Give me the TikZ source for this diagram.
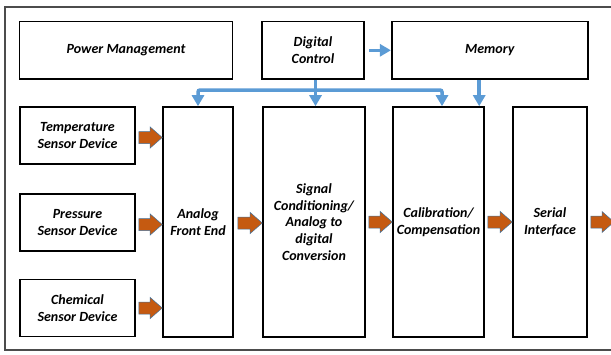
\documentclass[tikz,border=0pt]{standalone}
\usepackage{fontspec}
\setmainfont{Carlito}
\usetikzlibrary{arrows.meta,calc}
\definecolor{bblue}{HTML}{5B9BD5}
\definecolor{borange}{HTML}{C55A11}
\definecolor{bedge}{HTML}{41719C}
\tikzset{
  box/.style={draw, line width=1.6pt, align=center, inner sep=0pt},
  topbox/.style={box, minimum height=57.5pt},
  sbox/.style={box, minimum width=115pt, minimum height=57pt},
  tbox/.style={box, minimum height=230pt},
  barrow/.style={draw=bedge, line width=0.5pt, fill=borange,
    to path={let \p1=(\tikztostart), \p2=(\tikztotarget) in
      (\x1,\y1-6pt) -- (\x2-12pt,\y1-6pt) -- (\x2-12pt,\y1-10.5pt) -- (\x2,\y1)
      -- (\x2-12pt,\y1+10.5pt) -- (\x2-12pt,\y1+6pt) -- (\x1,\y1+6pt) -- cycle}},
  bline/.style={draw=bblue, line width=3.5pt},
  btip/.tip={Triangle[width=12pt,length=11pt]}
}
\begin{document}
\begin{tikzpicture}[x=1pt, y=-1pt, font=\fontsize{14}{16.7}\selectfont\bfseries\itshape]
\clip (0,0) rectangle (611,354);
\fill[white] (0,0) rectangle (611,354);
\draw[line width=1.5pt, black!70] (5,7) rectangle (630,350);
% top row
\node[topbox, minimum width=213pt] (pm) at (126,50.3) {Power Management};
\node[topbox, minimum width=102.5pt] (dc) at (313,50.3) {Digital\\Control};
\node[topbox, minimum width=196pt] (mem) at (489.7,50.3) {Memory};
% sensors
\node[sbox] (ts) at (77.5,135.5) {Temperature\\Sensor Device};
\node[sbox] (ps) at (77.5,222.5) {Pressure\\Sensor Device};
\node[sbox] (cs) at (77.5,308) {Chemical\\Sensor Device};
% tall blocks
\node[tbox, minimum width=70pt] (afe) at (198,222) {Analog\\Front End};
\node[tbox, minimum width=102pt] (sc) at (314,222) {Signal\\Conditioning/\\Analog to\\digital\\Conversion};
\node[tbox, minimum width=91pt] (cal) at (438.5,222) {Calibration/\\Compensation};
\node[tbox, minimum width=74pt] (si) at (550,222) {Serial\\Interface};
\coordinate (out) at (614,222);
% orange block arrows
\path[barrow] ([xshift=3pt,yshift=-2pt]ts.east) to (afe.west);
\path[barrow] ([xshift=3pt,yshift=-2pt]ps.east) to (afe.west);
\path[barrow] ([xshift=3pt]cs.east) to (afe.west);
\path[barrow] ([xshift=4pt,yshift=-1pt]afe.east) to (sc.west);
\path[barrow] ([xshift=3pt]sc.east) to (cal.west);
\path[barrow] ([xshift=3pt]cal.east) to (si.west);
\path[barrow] ([xshift=3pt]si.east) to (out);
% blue control arrows
\coordinate (busL) at (198,90);
\coordinate (busR) at (442,90);
\draw[bline, btip-btip, rounded corners=2pt] (busL |- afe.north) -- (busL) -- (busR) -- (busR |- cal.north);
\coordinate (dd) at ([xshift=2.5pt]dc.south);
\draw[bline, -btip] (dd) -- (dd |- sc.north);
\coordinate (mm) at ([xshift=-10.5pt]mem.south);
\draw[bline, -btip] (mm) -- (mm |- cal.north);
\draw[bline, -btip] ([xshift=4pt]dc.east) -- (mem.west);
\end{tikzpicture}
\end{document}
